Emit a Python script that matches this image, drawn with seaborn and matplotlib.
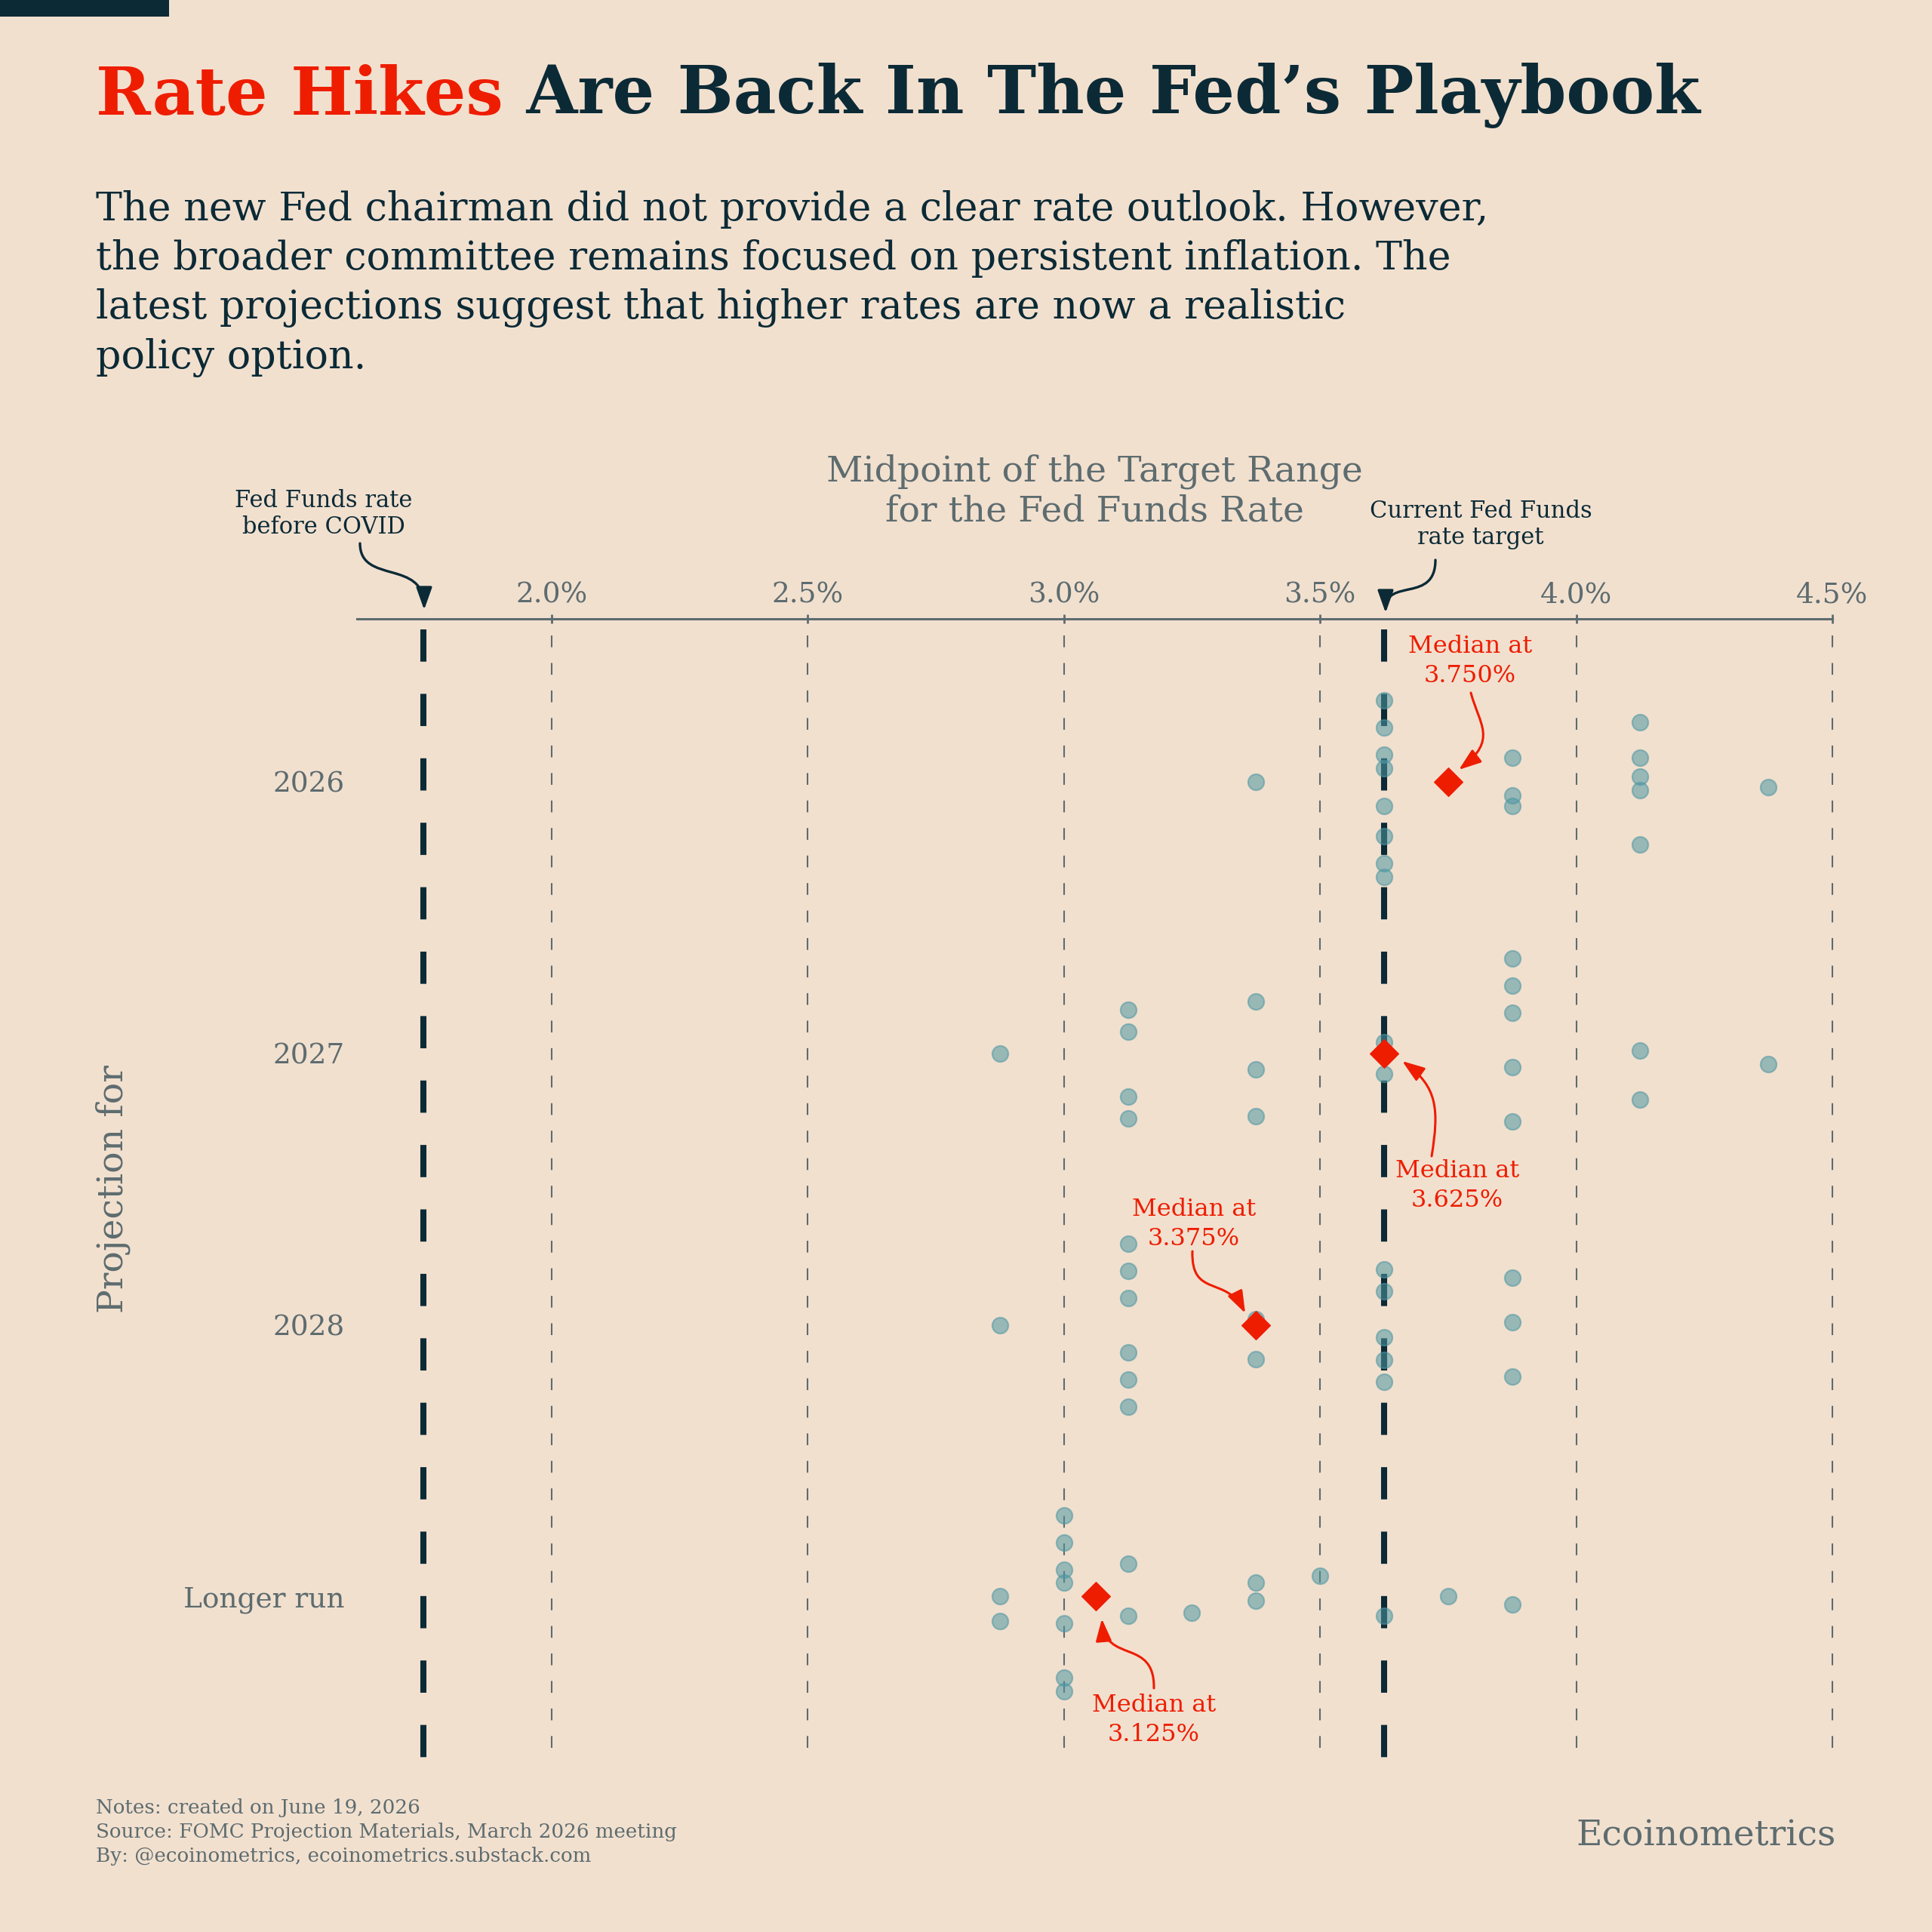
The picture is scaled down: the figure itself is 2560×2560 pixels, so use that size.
import numpy as np
import pandas as pd
import matplotlib
matplotlib.use("Agg")
import matplotlib.pyplot as plt
from matplotlib.patches import FancyArrowPatch, Rectangle
from matplotlib.path import Path
from matplotlib.transforms import Affine2D
import seaborn as sns

# ---- data (March 2026 meeting) ----
rows = ["2026", "2027", "2028", "Longer run"]

rates_2026 = [3.375, 3.625, 3.625, 3.625, 3.625, 3.625, 3.625, 3.625, 3.625,
              3.875, 3.875, 3.875, 4.125, 4.125, 4.125, 4.125, 4.125, 4.375]
spread_2026 = [0.0, -0.30, -0.20, -0.10, -0.05, 0.09, 0.20, 0.30, 0.35,
               -0.09, 0.05, 0.09, -0.22, -0.09, -0.02, 0.03, 0.23, 0.02]

rates_2027 = [2.875, 3.125, 3.125, 3.125, 3.125, 3.375, 3.375, 3.375, 3.625,
              3.625, 3.875, 3.875, 3.875, 3.875, 3.875, 4.125, 4.125, 4.375]
spread_2027 = [0.0, -0.16, -0.08, 0.16, 0.24, -0.19, 0.06, 0.23, -0.04,
               0.075, -0.35, -0.25, -0.15, 0.05, 0.25, -0.01, 0.17, 0.04]

rates_2028 = [2.875, 3.125, 3.125, 3.125, 3.125, 3.125, 3.125, 3.375, 3.375,
              3.625, 3.625, 3.625, 3.625, 3.625, 3.875, 3.875, 3.875]
spread_2028 = [0.0, -0.30, -0.20, -0.10, 0.10, 0.20, 0.30, -0.02, 0.125,
               -0.205, -0.125, 0.045, 0.13, 0.21, -0.175, -0.01, 0.19]

rates_lr = [2.875, 2.875, 3.0, 3.0, 3.0, 3.0, 3.0, 3.0, 3.0, 3.125, 3.125,
            3.25, 3.375, 3.375, 3.5, 3.625, 3.75, 3.875]
spread_lr = [0.0, 0.09, -0.30, -0.20, -0.10, -0.05, 0.10, 0.30, 0.35, -0.12,
             0.07, 0.06, -0.05, 0.015, -0.075, 0.07, 0.0, 0.03]

official_medians = [3.750, 3.625, 3.375, 3.125]
precovid_rate = 1.75
current_rate = 3.625
x_ticks = [2.0, 2.5, 3.0, 3.5, 4.0, 4.5]

# ---- colours ----
BG = "#F2E0CF"
NAVY = "#0B2A36"
RED = "#EE1D00"
GREY = "#5D6C6F"
TEAL = "#4E97A3"

W = 2560  # reference canvas in pixels

frames = []
for i, (r, s) in enumerate(zip([rates_2026, rates_2027, rates_2028, rates_lr],
                               [spread_2026, spread_2027, spread_2028, spread_lr])):
    frames.append(pd.DataFrame({"row": rows[i], "pos": i, "rate": r, "spread": s}))
df = pd.concat(frames, ignore_index=True)
df["y"] = df["pos"] + df["spread"]
med = df.groupby("pos")["rate"].median().reset_index()

sns.set_theme(style="white")
plt.rcParams["font.family"] = ["DejaVu Serif"]

fig = plt.figure(figsize=(12.8, 12.8), dpi=200, facecolor=BG)
ax = fig.add_axes([473 / W, 1 - 2335 / W, (2428 - 473) / W, (2335 - 820) / W])
ax.set_facecolor(BG)

y_top, y_bot = -0.6, 3.61
ax.vlines(x_ticks, y_top + 0.06, y_bot, color=GREY, lw=0.75,
          linestyles=[(0, (7.5, 10))], zorder=1, clip_on=False)
ax.vlines([precovid_rate, current_rate], y_top + 0.04, y_bot, color=NAVY, lw=2.9,
          linestyles=[(0, (5.3, 5.3))], zorder=2)

sns.scatterplot(data=df, x="rate", y="y", ax=ax, s=58, color=TEAL, alpha=0.55,
                edgecolor=TEAL, linewidth=0.8, zorder=3, legend=False)
sns.scatterplot(data=med, x="rate", y="pos", ax=ax, marker="D", s=92, color=RED,
                edgecolor=RED, linewidth=0.5, zorder=4, legend=False)

ax.set_xlim(1.62, 4.5)
ax.set_ylim(y_bot, y_top)
ax.xaxis.tick_top()
ax.set_xticks(x_ticks, [f"{t:.1f}%" for t in x_ticks])
ax.tick_params(axis="x", direction="inout", length=4, width=1.0, color=GREY,
               labelcolor=GREY, labelsize=13.5, pad=3)
ax.set_yticks(range(len(rows)), rows)
ax.tick_params(axis="y", length=0, labelsize=13.5, labelcolor=GREY, pad=6)
for side in ["left", "right", "bottom"]:
    ax.spines[side].set_visible(False)
ax.spines["top"].set_color(GREY)
ax.spines["top"].set_linewidth(1.1)

ax.set_ylabel("")
ax.xaxis.set_label_position("top")
ax.set_xlabel("Midpoint of the Target Range\nfor the Fed Funds Rate", fontsize=17,
              color=GREY, linespacing=1.23)
ax.xaxis.label.set_va("center")
ax.xaxis.set_label_coords(0.5, (2335 - 651) / (2335 - 820))


def fx(x):
    return x / W


def fy(y):
    return 1 - y / W


fig.text(fx(150), fy(1576), "Projection for", rotation=90, ha="center", va="center",
         fontsize=17, color=GREY)

# title and subtitle
t1 = fig.text(fx(127), fy(152), "Rate Hikes", color=RED, fontsize=31.5,
              fontweight="bold", va="baseline")
ax.annotate(" Are Back In The Fed\u2019s Playbook", xy=(1, 0), xycoords=t1,
            va="bottom", ha="left", color=NAVY, fontsize=31.5, fontweight="bold")
fig.text(fx(127), fy(252),
         "The new Fed chairman did not provide a clear rate outlook. However,\n"
         "the broader committee remains focused on persistent inflation. The\n"
         "latest projections suggest that higher rates are now a realistic\n"
         "policy option.", va="top", fontsize=18.8, color=NAVY, linespacing=1.35)

# annotations
fig.text(fx(429), fy(681), "Fed Funds rate\nbefore COVID", ha="center", va="center",
         fontsize=11, color=NAVY, linespacing=1.15)
fig.text(fx(1962), fy(695), "Current Fed Funds\nrate target", ha="center", va="center",
         fontsize=11, color=NAVY, linespacing=1.15)
label_xy = [(1948, 876), (1931, 1571), (1582, 1622), (1529, 2279)]
for (lx, ly), m in zip(label_xy, official_medians):
    fig.text(fx(lx), fy(ly), f"Median at\n{m:.3f}%", ha="center", va="center",
             fontsize=11.5, color=RED, linespacing=1.3)

px_to_fig = Affine2D().scale(1 / W, -1 / W).translate(0, 1) + fig.transFigure


def curly(p0, c1, c2, p3, color, lw):
    path = Path([p0, c1, c2, p3], [Path.MOVETO, Path.CURVE4, Path.CURVE4, Path.CURVE4])
    arr = FancyArrowPatch(path=path, arrowstyle="-|>,head_length=0.45,head_width=0.16",
                          mutation_scale=20, color=color, lw=lw, transform=px_to_fig)
    fig.add_artist(arr)


curly((477, 720), (477, 775), (562, 740), (562, 808), NAVY, 1.2)
curly((1902, 742), (1902, 800), (1836, 765), (1836, 812), NAVY, 1.2)
curly((1949, 918), (1960, 960), (1985, 980), (1933, 1020), RED, 1.1)
curly((1897, 1532), (1907, 1470), (1905, 1440), (1858, 1406), RED, 1.1)
curly((1580, 1658), (1578, 1720), (1625, 1690), (1650, 1740), RED, 1.1)
curly((1529, 2237), (1530, 2170), (1465, 2205), (1460, 2145), RED, 1.1)

# footer
fig.text(fx(127), fy(2383),
         "Notes: created on June 19, 2026\n"
         "Source: FOMC Projection Materials, March 2026 meeting\n"
         "By: @ecoinometrics, ecoinometrics.substack.com",
         va="top", fontsize=9.4, color=GREY, linespacing=1.36)
fig.text(fx(2433), fy(2446), "Ecoinometrics", ha="right", va="baseline",
         fontsize=17, color=GREY)

fig.add_artist(Rectangle((0, fy(22)), fx(224), 22 / W, transform=fig.transFigure,
                         color=NAVY, lw=0))

fig.savefig("out.png", dpi=200, facecolor=BG)
